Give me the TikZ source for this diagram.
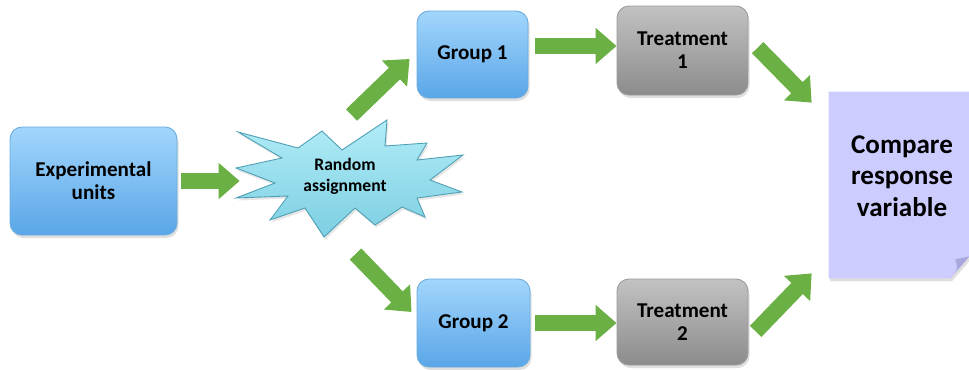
\documentclass[tikz,border=0pt]{standalone}
\usepackage{fontspec}
\setmainfont{Carlito}
\usepackage{tikz}
\usetikzlibrary{arrows.meta, calc, shadows}

\definecolor{boxtop}{HTML}{A2D6FC}
\definecolor{boxbot}{HTML}{5AA6E8}
\definecolor{boxline}{HTML}{6AACDD}
\definecolor{greytop}{HTML}{C2C2C2}
\definecolor{greybot}{HTML}{8C8C8C}
\definecolor{greyline}{HTML}{9A9A9A}
\definecolor{bursttop}{HTML}{B2ECF7}
\definecolor{burstbot}{HTML}{7CCFE2}
\definecolor{burstline}{HTML}{4E9FB4}
\definecolor{paper}{HTML}{CCCCFF}
\definecolor{fold}{HTML}{A8A8DC}
\definecolor{arrowgreen}{HTML}{6BB045}

\begin{document}
\begin{tikzpicture}[
        every node/.style={font=\bfseries\fontsize{12}{13}\selectfont, align=center, inner sep=1pt},
        group/.style={rectangle, rounded corners=0.24cm, draw=boxline, line width=0.5pt,
            top color=boxtop, bottom color=boxbot,
            drop shadow={opacity=0.25, shadow xshift=0.03cm, shadow yshift=-0.06cm}},
        treat/.style={rectangle, rounded corners=0.24cm, draw=greyline, line width=0.5pt,
            top color=greytop, bottom color=greybot,
            drop shadow={opacity=0.25, shadow xshift=0.03cm, shadow yshift=-0.06cm}},
        flow/.style={draw=arrowgreen, line width=0.32cm, -{Triangle[length=0.42cm, width=0.7cm]}},
    ]
        \useasboundingbox (0,0) rectangle (19.38,7.38);

        % boxes
        \node[group, minimum width=3.34cm, minimum height=2.16cm] (units) at (1.87,3.76) {Experimental\\units};
        \node[group, minimum width=2.22cm, minimum height=1.74cm] (g1) at (9.45,6.29) {Group 1};
        \node[group, minimum width=2.26cm, minimum height=1.76cm] (g2) at (9.47,0.92) {Group 2};
        \node[treat, minimum width=2.62cm, minimum height=1.78cm] (t1) at (13.65,6.37) {Treatment\\1};
        \node[treat, minimum width=2.62cm, minimum height=1.72cm] (t2) at (13.65,0.94) {Treatment\\2};

        % starburst
        \coordinate (mid) at (7.0,3.78);
        \draw[shift={(mid)}, draw=burstline, line width=0.5pt, top color=bursttop, bottom color=burstbot,
            drop shadow={opacity=0.2, shadow xshift=0.03cm, shadow yshift=-0.05cm}]
            (-2.24,0.96) -- (-1.04,0.64) -- (-0.56,0.98) -- (-0.16,0.60) -- (0.74,1.20) -- (0.70,0.68)
            -- (1.54,0.74) -- (1.34,0.40) -- (2.26,0.50) -- (1.60,0.0) -- (2.24,-0.24) -- (1.34,-0.36)
            -- (1.50,-0.74) -- (1.04,-0.54) -- (0.50,-0.90) -- (0.10,-0.56) -- (-0.52,-1.14) -- (-0.90,-0.56)
            -- (-1.60,-0.80) -- (-1.24,-0.32) -- (-2.28,-0.36) -- (-1.50,-0.06) -- (-2.28,0.24) -- (-1.36,0.44) -- cycle;
        \node[minimum width=4.2cm, minimum height=1.6cm, font=\bfseries\fontsize{10}{12}\selectfont] (burst)
            at ([shift={(-0.1,0.08)}]mid) {Random\\assignment};

        % compare sheet with folded corner
        \node[minimum width=2.8cm, minimum height=3.72cm] (cmp) at (17.98,3.68) {};
        \fill[paper, drop shadow={opacity=0.25, shadow xshift=0.03cm, shadow yshift=-0.06cm}]
            (cmp.north west) -- (cmp.north east) -- ([yshift=0.44cm]cmp.south east)
            -- ([xshift=-0.38cm]cmp.south east) -- (cmp.south west) -- cycle;
        \fill[fold] ([yshift=0.44cm]cmp.south east) -- ([xshift=-0.38cm]cmp.south east)
            .. controls ([shift={(-0.22,0.18)}]cmp.south east) .. ([shift={(-0.28,0.38)}]cmp.south east) -- cycle;
        \node[font=\bfseries\fontsize{15.4}{18}\selectfont] (cmptext) at ([shift={(0.06,0.18)}]cmp.center)
            {Compare\\response\\variable};

        % arrows
        \draw[flow] ([xshift=0.08cm]units.east) -- (units.east -| burst.west);
        \draw[flow] ($(g1.west)+(-1.30,-1.21)$) -- ($(g1.west)+(-0.14,-0.09)$);
        \draw[flow] ($(g2.west)+(-1.22,1.38)$) -- ($(g2.west)+(-0.10,0.22)$);
        \draw[flow] ([shift={(0.14,0.17)}]g1.east) -- ([yshift=0.17cm]g1.east -| t1.west);
        \draw[flow] ([xshift=0.1cm]g2.east) -- (g2.east -| t2.west);
        \draw[flow] ($(cmp.north west)+(-1.42,0.88)$) -- ($(cmp.north west)+(-0.34,-0.22)$);
        \draw[flow] ($(cmp.south west)+(-1.46,-1.06)$) -- ($(cmp.south west)+(-0.34,0.10)$);
    \end{tikzpicture}
\end{document}
